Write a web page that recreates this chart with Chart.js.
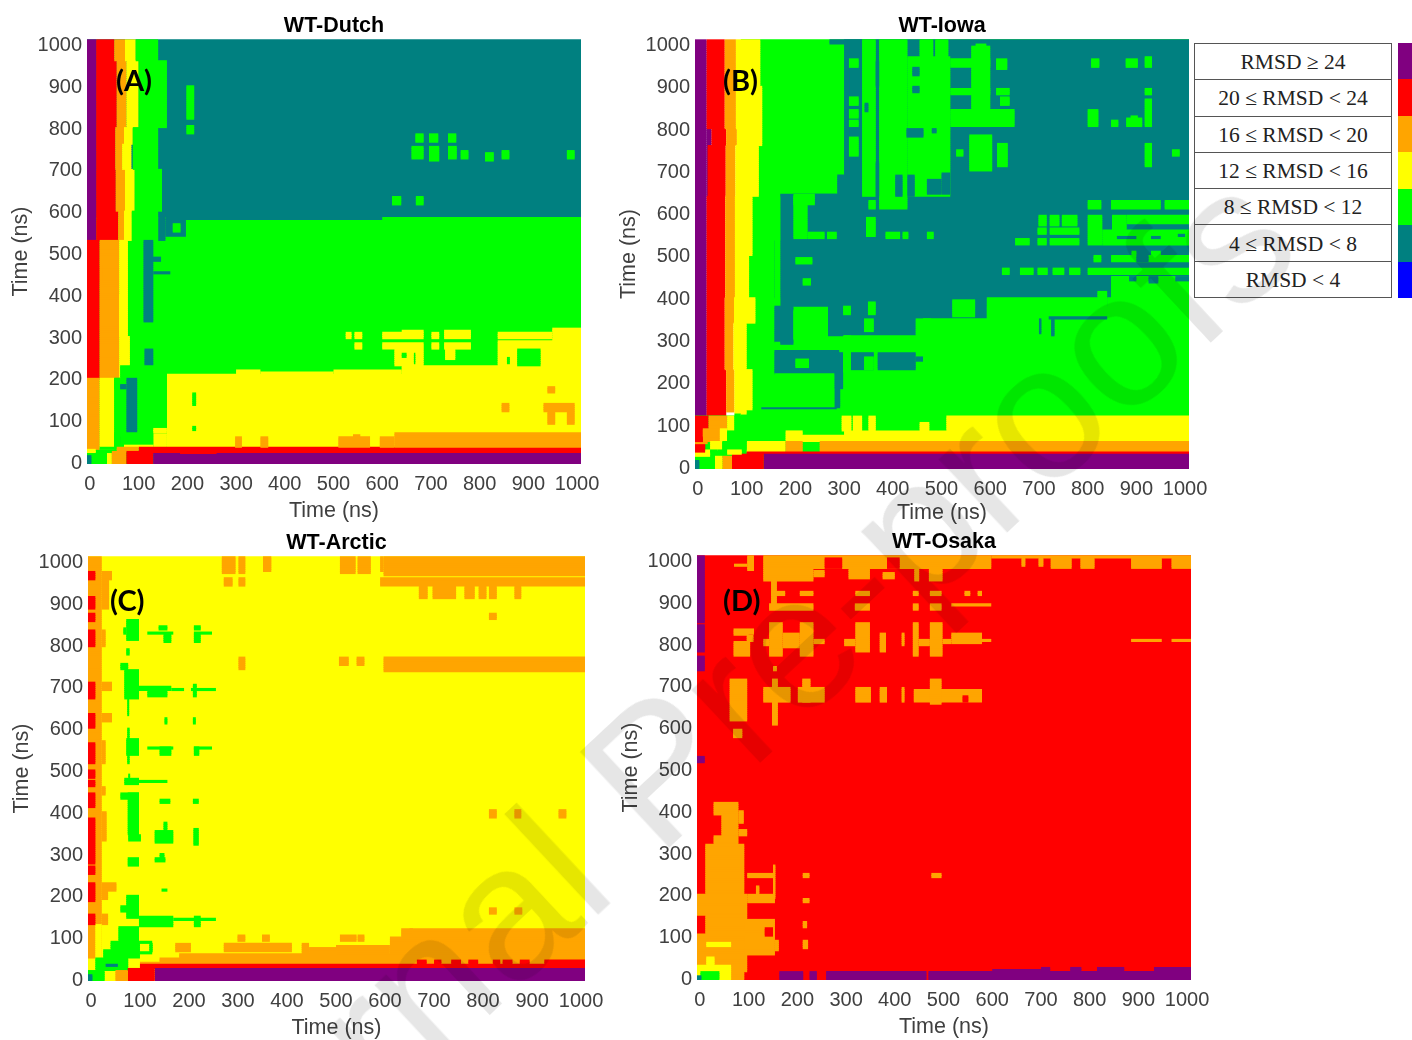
<!DOCTYPE html>
<html lang="en">
<head>
<meta charset="UTF-8">
<title>RMSD maps</title>
<script src="https://cdn.jsdelivr.net/npm/chart.js"></script>
<style>
  html, body { margin: 0; background: #fff; }
  #page { position: relative; width: 1412px; height: 1040px; overflow: hidden; }
  #page canvas { position: absolute; filter: blur(0.4px); }
  .tag { position: absolute; font: bold 29px Lato, sans-serif; color: #000; line-height: 30px; }
  #key { position: absolute; left: 1194px; top: 43px; width: 198px; height: 255px; border-collapse: collapse; table-layout: fixed; }
  #key td { border: 1.5px solid #555; padding: 2px 0 0 0; text-align: center; font: 21.5px "Liberation Serif", serif; color: #222; }
  .swatch { position: absolute; left: 1398px; width: 14px; }
  #mark { position: absolute; left: 690px; top: 738px; transform: translate(-50%, -50%) rotate(-43deg); font: 190px "Liberation Sans", sans-serif; color: #e6e6e6; white-space: nowrap; mix-blend-mode: multiply; pointer-events: none; }
</style>
</head>
<body>
<div id="page"><table id="key"></table><div id="mark">Journal Pre-proofs</div></div>
<script>
const tickValues = [0, 100, 200, 300, 400, 500, 600, 700, 800, 900, 1000];
const rmsdLabels = ['RMSD ≥ 24', '20 ≤ RMSD < 24', '16 ≤ RMSD < 20', '12 ≤ RMSD < 16', '8 ≤ RMSD < 12', '4 ≤ RMSD < 8', 'RMSD < 4'];
const rmsdCodes = ['P', 'R', 'O', 'Y', 'G', 'T', 'B'];
const rmsdColors = ['#800080', '#ff0000', '#ffa500', '#ffff00', '#00ff00', '#008080', '#0000ff'];

// cells are [xFrom, xTo, yFrom, yTo, class] in ns, painted in order
const dutchCells = [
  [-6,1008,584,1012,'T'], [-6,1008,-5,584,'G'], [190,600,578,584,'T'], [155,197,540,584,'T'], [140,155,530,584,'T'], [170,186,552,568,'G'],
  [158,1008,35,208,'Y'], [300,350,208,222,'Y'], [350,500,208,214,'Y'], [500,640,208,222,'Y'], [640,1008,208,228,'Y'], [130,158,35,70,'Y'],
  [-6,13,530,1012,'P'], [13,50,960,1012,'R'], [13,55,800,960,'R'], [13,52,700,800,'R'], [13,53,600,700,'R'], [13,58,530,600,'R'],
  [50,72,960,1012,'O'], [55,75,800,960,'O'], [52,70,760,800,'O'], [52,66,700,760,'O'], [53,72,600,700,'O'], [58,70,530,600,'O'],
  [72,94,960,1012,'Y'], [75,100,800,960,'Y'], [70,88,760,800,'Y'], [66,85,700,760,'Y'], [72,92,600,700,'Y'], [70,86,530,600,'Y'],
  [94,140,960,1012,'G'], [100,158,800,960,'G'], [88,140,700,800,'G'], [92,148,600,700,'G'], [86,140,584,600,'G'], [86,140,530,584,'G'],
  [-6,20,200,530,'R'], [20,26,430,470,'R'], [20,60,200,530,'O'], [26,60,430,470,'O'], [60,78,200,530,'Y'], [60,75,300,400,'Y'], [62,82,230,300,'Y'],
  [110,130,333,528,'T'], [120,146,480,492,'T'], [130,165,450,453,'T'], [112,130,225,270,'T'], [106,120,210,225,'T'],
  [-6,20,28,200,'O'], [20,50,30,200,'Y'], [50,62,28,200,'G'], [50,62,175,200,'G'], [62,158,70,228,'G'], [62,75,175,185,'T'], [75,97,45,200,'T'], [62,75,45,60,'T'], [35,65,108,112,'T'], [62,130,40,70,'G'], [50,62,30,70,'G'], [130,158,70,78,'Y'],
  [70,130,35,40,'Y'], [20,50,28,35,'G'], [-6,12,22,28,'Y'],
  [100,1008,22,35,'R'], [55,100,25,35,'O'], [-6,35,-5,22,'G'], [-6,3,-5,15,'T'], [35,45,-5,20,'Y'], [45,75,-5,25,'O'], [75,130,-5,24,'R'], [130,1008,-5,22,'P'], [185,260,22,27,'R'],
  [198,214,822,900,'G'], [198,214,787,805,'G'], [668,685,767,785,'G'], [696,715,767,785,'G'], [735,752,767,785,'G'],
  [660,685,727,756,'G'], [696,717,722,756,'G'], [735,753,727,756,'G'], [761,777,725,743,'G'], [811,829,720,742,'G'], [845,861,725,743,'G'], [979,995,725,743,'G'], [620,639,617,634,'G'], [669,685,617,634,'G'],
  [525,537,295,311,'Y'], [543,559,295,311,'Y'], [543,559,269,285,'Y'], [600,685,297,311,'Y'], [640,685,311,316,'Y'], [600,685,269,285,'Y'], [625,685,228,269,'Y'], [640,650,250,258,'G'], [665,668,235,260,'G'],
  [701,717,295,311,'Y'], [701,717,269,285,'Y'], [727,782,295,315,'Y'], [727,782,269,285,'Y'], [729,750,247,269,'Y'],
  [837,949,297,311,'Y'], [837,1008,228,289,'Y'], [949,1008,289,318,'Y'], [877,925,228,268,'G'], [856,862,235,250,'G'],
  [210,218,133,165,'G'], [210,218,74,86,'G'], [939,955,165,181,'O'], [845,861,122,138,'O'], [931,995,122,138,'O'], [939,955,90,122,'O'], [979,995,90,122,'O'],
  [625,1008,35,70,'O'], [510,575,35,58,'O'], [540,555,58,65,'O'], [595,625,35,58,'O'], [298,312,35,58,'O'], [350,366,35,58,'O']
];

const iowaCells = [
  [88,1008,120,1012,'G'],
  [300,1008,690,1012,'T'], [270,337,998,1012,'T'], [169,1008,380,644,'T'], [196,300,537,644,'T'], [157,1008,400,537,'T'], [286,1008,644,690,'T'],
  [337,365,640,1012,'G'], [372,430,610,1012,'G'], [430,518,695,970,'G'], [455,483,970,1012,'G'], [487,514,970,1012,'G'], [518,600,943,967,'G'], [518,600,878,896,'G'], [518,650,805,845,'G'], [561,600,805,995,'G'], [570,592,967,998,'G'],
  [612,635,940,967,'G'], [612,640,878,896,'G'], [620,640,857,875,'G'], [557,604,699,786,'G'], [530,545,734,752,'G'], [614,636,711,766,'G'], [430,518,640,695,'G'], [500,518,645,695,'T'], [470,500,645,680,'T'], [430,445,640,690,'T'],
  [440,455,927,943,'T'], [440,455,885,900,'T'], [428,463,782,801,'T'], [480,490,790,800,'T'], [365,372,900,960,'T'], [365,372,640,720,'T'], [342,350,840,860,'T'], [405,420,640,690,'T'],
  [310,330,945,964,'G'], [310,330,857,875,'G'], [310,330,825,845,'G'], [310,330,805,821,'G'], [310,330,736,782,'G'],
  [196,225,540,640,'G'], [196,240,620,644,'G'], [225,260,540,556,'G'], [265,285,540,556,'G'], [350,365,610,630,'G'], [345,365,545,590,'G'], [385,415,540,556,'G'], [420,432,540,556,'G'], [470,484,540,556,'G'],
  [200,235,480,495,'G'], [215,232,430,445,'G'], [807,824,946,963,'G'], [878,903,946,964,'G'], [917,932,946,972,'G'], [917,932,878,894,'G'], [917,932,805,872,'G'], [879,912,805,825,'G'], [888,903,825,832,'G'], [848,863,805,821,'G'], [800,822,805,845,'G'], [917,932,712,766,'G'], [973,989,734,752,'G'],
  [800,828,610,628,'G'], [848,950,610,628,'G'], [958,1008,610,628,'G'], [699,716,569,593,'G'], [722,742,569,593,'G'], [747,779,569,593,'G'], [697,716,552,567,'G'], [722,783,552,567,'G'], [651,681,526,541,'G'], [697,716,526,541,'G'], [722,783,526,541,'G'],
  [800,830,526,595,'G'], [830,1008,526,560,'G'], [850,880,560,596,'G'], [880,1008,575,596,'G'], [860,900,538,544,'T'], [930,950,538,544,'T'], [985,1000,546,552,'T'],
  [812,828,486,502,'G'], [848,1008,486,502,'G'], [890,900,490,510,'G'], [930,950,490,512,'G'], [900,925,486,498,'T'],
  [624,640,455,470,'G'], [661,689,455,470,'G'], [697,718,455,470,'G'], [728,752,455,470,'G'], [762,785,455,470,'G'], [800,1008,455,470,'G'], [848,1008,400,450,'G'], [885,900,440,450,'T'], [925,945,435,450,'T'], [980,1008,440,450,'T'],
  [267,593,350,380,'T'], [267,462,309,350,'T'],
  [593,840,352,400,'G'], [820,840,400,415,'G'], [522,569,356,395,'G'], [349,365,360,388,'G'], [298,314,362,380,'G'],
  [300,1008,120,309,'G'], [462,1008,309,350,'G'], [447,479,309,352,'G'], [341,361,320,352,'G'], [840,1008,350,400,'G'], [720,840,350,355,'T'], [700,705,315,350,'T'], [725,732,310,350,'T'],
  [157,169,290,640,'G'], [157,196,293,380,'T'], [196,235,293,368,'G'], [235,267,262,352,'G'], [157,235,273,293,'G'], [157,290,222,273,'T'], [200,228,235,256,'G'], [267,298,183,270,'T'], [280,292,140,183,'T'], [157,280,120,222,'G'], [169,196,290,300,'T'],
  [314,361,230,270,'T'], [341,361,230,262,'G'], [369,447,230,270,'T'], [447,462,250,262,'T'], [298,314,225,312,'G'],
  [130,285,133,140,'T'], [106,122,80,116,'T'], [120,290,120,133,'G'],
  [-6,18,120,1012,'P'], [18,28,760,800,'P'], [18,22,640,760,'P'],
  [18,55,900,1012,'R'], [18,55,800,900,'R'], [28,58,760,800,'R'], [20,57,640,760,'R'], [18,56,400,640,'R'], [18,55,340,400,'R'], [18,55,230,340,'R'], [18,58,120,230,'R'],
  [55,78,800,1012,'O'], [58,80,760,800,'O'], [57,77,640,760,'O'], [56,76,400,640,'O'], [55,74,340,400,'O'], [55,73,230,340,'O'], [58,75,130,230,'O'],
  [78,128,900,1012,'Y'], [78,132,800,900,'Y'], [80,132,760,800,'Y'], [77,125,640,760,'Y'], [76,112,500,640,'Y'], [76,105,400,500,'Y'], [74,118,340,400,'Y'], [73,100,230,340,'Y'], [75,112,135,230,'Y'], [75,100,125,135,'Y'],
  [-6,1008,-5,120,'G'], [180,1008,58,76,'Y'], [180,215,76,85,'Y'], [300,1008,76,87,'Y'], [510,1008,87,120,'Y'], [295,315,87,120,'Y'], [318,337,87,120,'Y'], [350,365,87,120,'Y'], [455,475,87,105,'Y'], [100,180,37,58,'Y'],
  [250,1008,37,58,'O'], [180,215,37,58,'O'], [100,1008,28,37,'R'], [135,1008,-5,28,'P'], [70,135,-5,28,'R'], [50,70,-5,25,'O'], [35,50,-5,25,'Y'], [-6,35,-5,25,'G'], [-6,3,-5,15,'T'],
  [-6,25,25,35,'Y'], [-6,15,35,55,'R'], [15,25,35,42,'Y'], [-6,20,55,62,'O'], [-6,22,62,120,'R'], [22,60,90,120,'O'], [10,50,60,90,'O'], [-6,10,62,72,'R'], [60,75,85,120,'Y'], [45,60,60,90,'Y'], [25,50,42,60,'Y'], [75,88,100,125,'G'], [50,60,40,60,'G'], [25,40,35,42,'G'], [60,100,40,85,'G'], [75,100,85,100,'G'], [40,60,30,40,'G'], [60,90,28,40,'Y']
];

const arcticCells = [
  [-6,1008,-5,1012,'Y'],
  [-6,22,52,1012,'O'], [22,43,955,973,'O'], [22,37,883,955,'O'], [22,30,793,835,'O'], [22,43,690,712,'O'], [22,43,615,636,'O'], [22,30,515,570,'O'], [22,30,440,460,'O'], [22,32,330,400,'O'], [22,52,209,228,'O'], [22,35,190,209,'O'], [22,35,131,153,'O'],
  [9,22,52,120,'Y'], [9,22,120,131,'Y'],
  [-6,9,955,973,'R'], [-6,9,883,917,'R'], [-6,9,855,873,'R'], [-6,9,793,835,'R'], [-6,9,670,712,'R'], [-6,9,602,636,'R'], [-6,9,515,565,'R'], [-6,9,481,501,'R'], [-6,9,459,477,'R'], [-6,9,410,443,'R'], [-6,9,273,386,'R'], [-6,9,250,270,'R'], [-6,9,183,228,'R'], [-6,9,131,153,'R'],
  [72,98,809,859,'G'], [66,72,825,840,'G'], [138,156,835,847,'G'], [115,168,825,829,'G'], [148,164,803,825,'G'], [210,224,835,847,'G'], [210,247,825,829,'G'], [210,224,806,825,'G'], [72,79,773,791,'G'],
  [60,76,740,753,'G'], [68,98,668,740,'G'], [98,164,688,702,'G'], [115,156,674,688,'G'], [164,190,690,696,'G'], [204,255,690,696,'G'], [208,216,676,704,'G'], [74,78,630,668,'G'],
  [72,98,537,577,'G'], [74,79,515,600,'G'], [115,168,551,554,'G'], [140,164,537,557,'G'], [210,221,537,557,'G'], [210,247,551,554,'G'], [150,156,610,624,'G'], [208,214,610,624,'G'],
  [68,98,465,481,'G'], [76,80,481,490,'G'], [98,156,471,477,'G'], [140,162,422,432,'G'], [208,220,422,432,'G'], [60,98,430,443,'G'], [75,98,346,443,'G'], [76,102,330,346,'G'], [130,168,324,356,'G'], [148,156,356,374,'G'], [209,220,322,358,'G'],
  [75,98,268,292,'G'], [130,152,278,290,'G'], [140,150,290,298,'G'], [144,156,209,215,'G'], [72,98,147,199,'G'], [60,98,160,175,'G'],
  [98,168,127,151,'G'], [168,255,139,145,'G'], [210,224,127,151,'G'], [56,98,91,127,'G'], [40,100,72,91,'G'], [25,100,52,72,'G'], [9,76,20,52,'G'], [-6,28,-4,20,'G'], [-6,3,-4,12,'T'], [30,55,28,33,'T'],
  [100,125,85,90,'G'], [100,125,62,66,'G'], [119,126,66,85,'G'],
  [100,1008,34,40,'O'], [140,1008,40,50,'O'], [180,1008,50,60,'O'], [610,1008,60,100,'O'], [650,1008,100,120,'O'],
  [172,204,67,85,'O'], [271,410,67,85,'O'], [430,445,60,85,'O'], [445,500,60,75,'O'], [500,610,60,82,'O'], [299,315,91,107,'O'], [349,365,91,107,'O'], [508,542,91,107,'O'], [544,558,91,107,'O'], [633,657,100,120,'O'],
  [812,828,154,169,'O'], [864,880,154,169,'O'], [812,828,387,403,'O'], [864,878,387,403,'O'], [954,970,387,403,'O'],
  [597,1008,966,1012,'O'], [590,597,975,1012,'O'], [590,1008,941,960,'O'], [669,687,912,941,'O'], [697,745,912,941,'O'], [762,783,912,941,'O'], [791,807,912,941,'O'], [812,828,912,941,'O'], [864,878,912,941,'O'], [812,828,859,877,'O'],
  [267,295,970,1012,'O'], [301,315,970,1012,'O'], [271,289,941,959,'O'], [301,315,941,959,'O'], [351,368,976,1012,'O'], [508,540,970,1012,'O'], [544,571,970,1012,'O'],
  [597,1008,736,772,'O'], [506,526,752,772,'O'], [542,558,752,772,'O'], [301,315,740,772,'O'],
  [100,1008,24,34,'R'], [665,685,34,45,'R'], [700,715,34,45,'R'], [735,755,34,45,'R'], [770,790,34,45,'R'], [820,835,34,45,'R'], [840,860,34,45,'R'], [875,895,34,45,'R'], [925,1008,34,45,'R'],
  [130,1008,-4,24,'P'], [75,130,-4,24,'R'], [50,75,-4,22,'O']
];

const osakaCells = [
  [-6,1008,-5,1012,'R'],
  [-6,10,852,1012,'P'], [-6,10,778,844,'P'], [-6,10,733,771,'P'], [-6,10,516,532,'P'],
  [130,598,980,1012,'O'], [256,292,980,1003,'R'], [384,410,980,1003,'R'], [598,1008,1003,1012,'O'], [720,763,980,1003,'O'], [781,810,980,1003,'O'], [885,948,980,1003,'O'], [968,1008,980,1003,'O'], [660,668,985,1003,'O'], [695,705,985,1003,'O'],
  [97,111,975,1012,'O'], [70,97,985,990,'O'], [130,233,952,980,'O'], [233,256,958,975,'O'], [305,349,955,980,'O'], [375,400,955,968,'O'], [440,450,950,980,'O'], [470,498,950,980,'O'], [498,580,958,962,'O'],
  [146,158,897,955,'O'], [146,175,917,927,'O'], [205,233,917,927,'O'], [319,349,917,927,'O'], [437,449,917,927,'O'], [472,496,917,927,'O'], [543,555,917,924,'O'], [570,579,917,924,'O'],
  [142,233,882,897,'O'], [233,256,888,892,'O'], [318,349,882,897,'O'], [375,392,888,892,'O'], [437,449,882,897,'O'], [472,496,882,897,'O'], [516,598,888,893,'O'], [660,668,888,892,'O'], [745,750,888,892,'O'], [885,948,888,892,'O'], [968,1008,888,892,'O'],
  [142,170,768,852,'O'], [130,142,794,810,'O'], [170,205,790,826,'O'], [205,233,772,848,'O'], [233,256,799,809,'O'], [296,319,796,809,'O'], [319,349,778,848,'O'], [369,382,778,826,'O'], [414,420,796,826,'O'], [437,449,768,848,'O'], [449,472,795,809,'O'], [472,498,768,848,'O'], [498,516,800,809,'O'], [516,579,800,826,'O'], [579,598,805,809,'O'], [885,948,805,809,'O'], [968,1008,805,809,'O'],
  [69,111,820,835,'O'], [69,103,769,804,'O'], [100,111,804,820,'R'], [96,110,805,820,'O'], [150,158,733,745,'O'],
  [61,97,617,713,'O'], [68,87,573,597,'O'], [130,186,661,693,'O'], [148,160,605,717,'O'], [201,256,661,693,'O'], [210,227,661,717,'O'], [319,351,661,693,'O'], [369,384,661,693,'O'], [414,420,661,693,'O'], [439,579,661,690,'O'], [472,496,653,717,'O'], [539,551,661,675,'R'],
  [28,79,390,422,'O'], [44,79,342,390,'O'], [28,79,318,342,'O'], [11,91,202,318,'O'], [-6,97,151,202,'O'], [11,97,107,151,'O'], [-6,97,15,107,'O'], [-6,91,-5,15,'O'],
  [79,90,370,400,'O'], [79,97,340,355,'O'], [97,154,238,250,'O'], [150,155,190,268,'O'], [97,154,178,198,'O'], [115,122,198,218,'O'], [91,154,55,139,'O'], [133,150,99,119,'R'], [154,162,66,90,'O'],
  [13,64,77,87,'Y'], [-6,64,-5,31,'Y'], [13,30,31,48,'Y'], [1,40,-5,17,'G'], [-6,3,-5,6,'T'],
  [211,225,238,250,'O'], [211,225,181,192,'O'], [211,220,119,133,'O'], [211,222,71,89,'O'], [475,496,240,250,'O'],
  [163,212,-5,15,'P'], [225,240,-5,15,'P'], [259,465,-5,15,'P'], [469,1008,-5,15,'P'], [600,700,-5,20,'P'], [700,719,-5,27,'P'], [760,783,-5,27,'P'], [815,871,-5,27,'P'], [932,1008,-5,27,'P']
];

const panels = [
  { title: 'WT-Dutch', tag: '(A)', cells: dutchCells, left: 87, top: 39, width: 494, height: 425, xTitlePad: 2, tagX: 116, tagY: 65 },
  { title: 'WT-Iowa', tag: '(B)', cells: iowaCells, left: 695, top: 39, width: 494, height: 430, xTitlePad: 5, tagX: 723, tagY: 65 },
  { title: 'WT-Arctic', tag: '(C)', cells: arcticCells, left: 88, top: 556, width: 497, height: 425, xTitlePad: 2, tagX: 110, tagY: 585 },
  { title: 'WT-Osaka', tag: '(D)', cells: osakaCells, left: 697, top: 555, width: 494, height: 425, xTitlePad: 2, tagX: 723, tagY: 585 }
];

const page = document.getElementById('page');
const tickColor = '#404040';
const rowStep = 5;

// each cell becomes one floating horizontal bar per row of the time grid
function cellsToBars(cells) {
  const points = [], colors = [];
  cells.forEach(([x0, x1, y0, y1, code]) => {
    const from = Math.round(y0 / rowStep), to = Math.round(y1 / rowStep);
    for (let r = from; r < to; r++) {
      points.push({ x: [x0, x1], y: (r + 0.5) * rowStep });
      colors.push(rmsdColors[rmsdCodes.indexOf(code)]);
    }
  });
  return { points, colors };
}

panels.forEach(p => {
  const canvas = document.createElement('canvas');
  const gutterLeft = 82, gutterTop = 28, gutterRight = 40, gutterBottom = 62;
  canvas.style.left = (p.left - gutterLeft) + 'px';
  canvas.style.top = (p.top - gutterTop) + 'px';
  canvas.width = gutterLeft + p.width + gutterRight;
  canvas.height = gutterTop + p.height + gutterBottom;
  page.appendChild(canvas);

  const bars = cellsToBars(p.cells);
  new Chart(canvas, {
    type: 'bar',
    data: { datasets: [{ data: bars.points, backgroundColor: bars.colors, borderWidth: 0, barPercentage: 1.5, categoryPercentage: 1, borderSkipped: false }] },
    options: {
      indexAxis: 'y',
      responsive: false,
      animation: false,
      layout: { padding: { right: gutterRight } },
      plugins: {
        legend: { display: false },
        tooltip: { enabled: false },
        title: { display: true, text: p.title, fullSize: false, color: '#000', font: { family: 'Liberation Sans', size: 21.5, weight: 'bold', lineHeight: '26px' }, padding: { top: 2, bottom: 0 } }
      },
      scales: {
        x: {
          type: 'linear', min: -6, max: 1008, offset: false,
          grid: { display: false, drawTicks: false }, border: { display: false },
          afterBuildTicks: s => { s.ticks = tickValues.map(v => ({ value: v })); },
          afterFit: s => { s.height = gutterBottom; },
          ticks: { color: tickColor, padding: 8, maxRotation: 0, autoSkip: false, callback: v => String(v), font: { family: 'Liberation Sans', size: 20 } },
          title: { display: true, text: 'Time (ns)', color: tickColor, padding: p.xTitlePad, font: { family: 'Liberation Sans', size: 21.5, lineHeight: '26px' } }
        },
        y: {
          type: 'linear', min: -5, max: 1012, offset: false,
          grid: { display: false, drawTicks: false }, border: { display: false },
          afterBuildTicks: s => { s.ticks = tickValues.map(v => ({ value: v })); },
          afterFit: s => { s.width = gutterLeft; },
          ticks: { color: tickColor, padding: 5, labelOffset: 1.5, autoSkip: false, callback: v => String(v), font: { family: 'Liberation Sans', size: 20 } },
          title: { display: true, text: 'Time (ns)', color: tickColor, padding: 3, font: { family: 'Liberation Sans', size: 21.5, lineHeight: '26px' } }
        }
      }
    }
  });

  const tag = document.createElement('div');
  tag.className = 'tag';
  tag.textContent = p.tag;
  tag.style.left = p.tagX + 'px';
  tag.style.top = p.tagY + 'px';
  page.appendChild(tag);
});

// key table and colour strip
const key = document.getElementById('key');
rmsdLabels.forEach((label, i) => {
  const cell = key.insertRow().insertCell();
  cell.textContent = label;
  const swatch = document.createElement('div');
  swatch.className = 'swatch';
  swatch.style.background = rmsdColors[i];
  swatch.style.top = (43 + i * 255 / 7) + 'px';
  swatch.style.height = (255 / 7 + 0.5) + 'px';
  page.appendChild(swatch);
});
// keep the watermark above everything
page.appendChild(document.getElementById('mark'));
</script>
</body>
</html>
